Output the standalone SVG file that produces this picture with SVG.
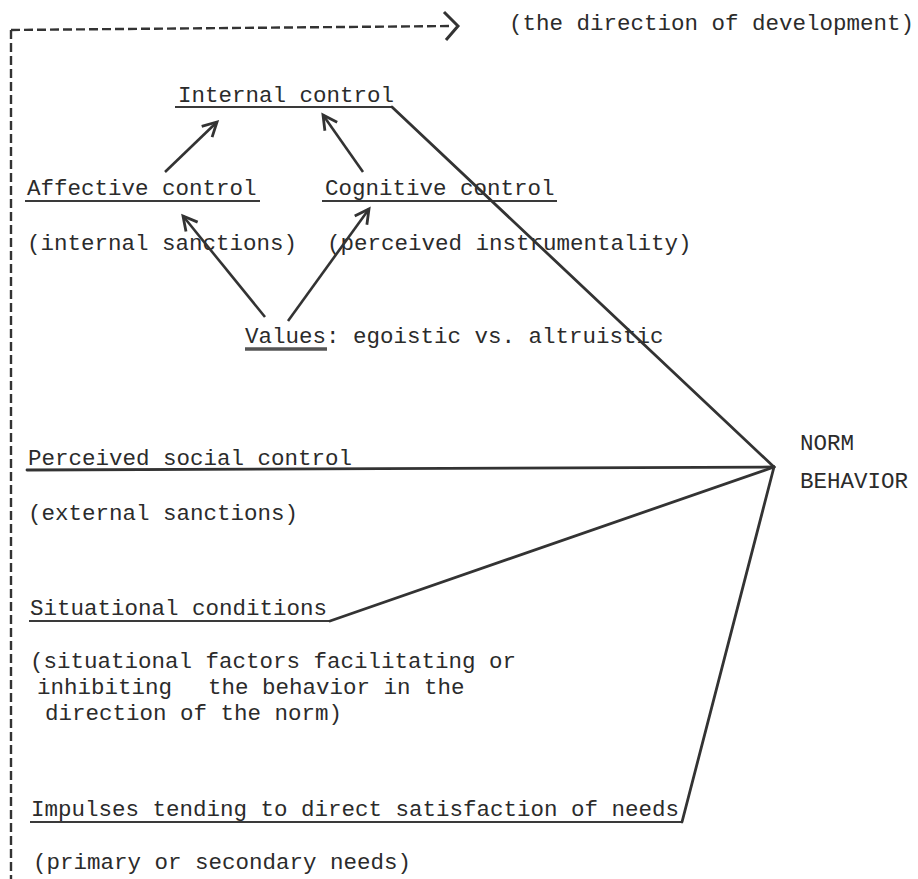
<svg xmlns="http://www.w3.org/2000/svg" width="918" height="879" viewBox="0 0 918 879">
<defs>
<style>
text{font-family:"Liberation Mono","DejaVu Sans Mono",monospace;font-size:22.5px;fill:#2b2b2b}
.ul{stroke:#3a3a3a;stroke-width:2.2;fill:none}
.ln{stroke:#333;stroke-width:2.8;fill:none;stroke-linecap:round;stroke-linejoin:round}
.ar{stroke:#333;stroke-width:2.6;fill:none;marker-end:url(#ah)}
.dash{stroke:#333;stroke-width:2.4;fill:none;stroke-dasharray:9 4}
</style>
<marker id="ah" viewBox="-16 -10 20 20" refX="0" refY="0" markerWidth="20" markerHeight="20" markerUnits="userSpaceOnUse" orient="auto">
<path d="M-14,-7.5 L0,0 L-14,7.5" fill="none" stroke="#333" stroke-width="2.8" stroke-linejoin="miter"/>
</marker>
</defs>
<rect width="918" height="879" fill="#ffffff"/>

<g id="direction-legend">
<path class="dash" d="M11,30 L452,26"/>
<path class="dash" d="M11,30 L11,879"/>
<path d="M444,12 L458,26 L446,40" fill="none" stroke="#333" stroke-width="3"/>
<text x="509" y="30">(the direction of development)</text>
</g>

<g id="internal-control">
<text x="178" y="102">Internal control</text>
<line class="ul" x1="175" y1="107" x2="392" y2="107"/>
</g>

<g id="affective-control">
<text x="27" y="195">Affective control</text>
<line class="ul" x1="25" y1="201" x2="260" y2="201"/>
<text x="27" y="250">(internal sanctions)</text>
</g>

<g id="cognitive-control">
<text x="325" y="195">Cognitive control</text>
<line class="ul" x1="322" y1="201" x2="557" y2="201"/>
<text x="327" y="250">(perceived instrumentality)</text>
</g>

<g id="values">
<text x="245" y="343">Values: egoistic vs. altruistic</text>
<line x1="245" y1="349" x2="327" y2="349" stroke="#555" stroke-width="3.5"/>
</g>

<g id="perceived-social-control">
<text x="28" y="465">Perceived social control</text>
<text x="28" y="520">(external sanctions)</text>
</g>

<g id="situational-conditions">
<text x="30" y="615">Situational conditions</text>
<line class="ul" x1="29" y1="621" x2="330" y2="621"/>
<text x="30" y="668">(situational factors facilitating or</text>
<text x="37" y="694">inhibiting</text>
<text x="208" y="694">the behavior in the</text>
<text x="45" y="720">direction of the norm)</text>
</g>

<g id="impulses">
<text x="31" y="816">Impulses tending to direct satisfaction of needs</text>
<line class="ul" x1="30" y1="822" x2="682" y2="822"/>
<text x="33" y="869">(primary or secondary needs)</text>
</g>

<g id="norm-behavior">
<text x="800" y="450">NORM</text>
<text x="800" y="488">BEHAVIOR</text>
</g>

<g id="connectors">
<path class="ar" d="M165,172 L217,122"/>
<path class="ar" d="M363,172 L323,115"/>
<path class="ar" d="M265,317 L183,216"/>
<path class="ar" d="M288,321 L369,209"/>
<path class="ln" d="M392,107 L774,467"/>
<path class="ln" d="M27,470 L774,467"/>
<path class="ln" d="M330,621 L774,467"/>
<path class="ln" d="M682,822 L774,467"/>
</g>
</svg>
